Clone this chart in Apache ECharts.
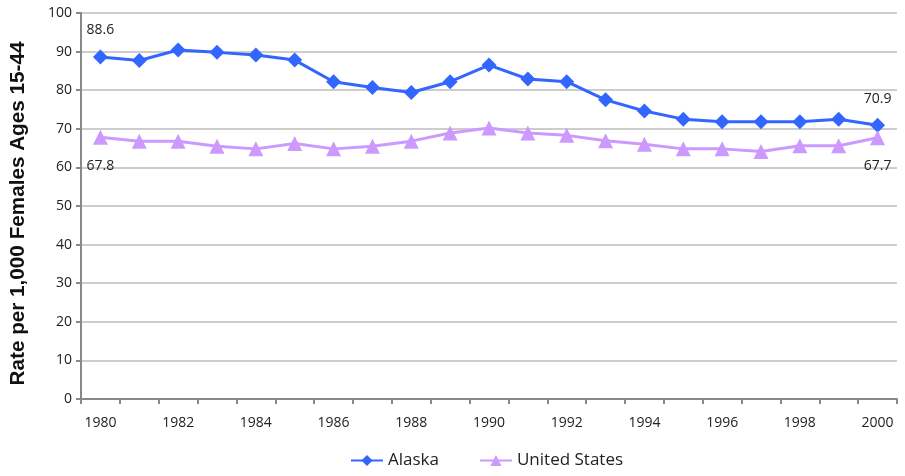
<!DOCTYPE html>
<html><head><meta charset="utf-8">
<script src="https://cdn.jsdelivr.net/npm/echarts@6/dist/echarts.min.js"></script>
<style>html,body{margin:0;padding:0;background:#fff}#c{width:905px;height:476px}</style>
</head><body><div id="c"></div>
<script>
const years = ['1980','1981','1982','1983','1984','1985','1986','1987','1988','1989','1990','1991','1992','1993','1994','1995','1996','1997','1998','1999','2000'];
const alaska = [88.6,87.7,90.4,89.8,89.1,87.8,82.2,80.7,79.4,82.2,86.5,82.9,82.2,77.5,74.6,72.5,71.8,71.8,71.8,72.5,70.9];
const us = [67.8,66.8,66.8,65.5,64.8,66.2,64.8,65.5,66.8,68.9,70.2,68.9,68.3,66.9,66.0,64.8,64.8,64.1,65.6,65.6,67.7];
const yTicks = [0,10,20,30,40,50,60,70,80,90,100];
const yTitle = 'Rate per 1,000 Females Ages 15-44';

const FONT = "'Open Sans', 'DejaVu Sans', sans-serif";
function withEndLabels(arr, pos) {
  return arr.map((v, i) => (i === 0 || i === arr.length - 1)
    ? {value: v, label: {show: true, position: pos, distance: pos === 'top' ? 12 : 14}}
    : v);
}
const chart = echarts.init(document.getElementById('c'));
chart.setOption({
  animation: false,
  grid: {left: 78, right: 8, top: 13, bottom: 77},
  legend: {
    bottom: 2, left: 345, itemWidth: 32, itemHeight: 14, itemGap: 40,
    textStyle: {fontFamily: FONT, fontSize: 17, color: '#222'},
    data: ['Alaska', 'United States']
  },
  xAxis: {
    type: 'category', data: years, boundaryGap: true,
    axisLine: {lineStyle: {color: '#888', width: 2}},
    axisTick: {show: true, interval: 0, length: 5, lineStyle: {color: '#888', width: 2}},
    axisLabel: {interval: 1, fontFamily: FONT, fontSize: 14, color: '#222', margin: 17}
  },
  yAxis: {
    type: 'value', min: yTicks[0], max: yTicks[yTicks.length - 1], interval: 10,
    name: yTitle, nameLocation: 'middle', nameGap: 52,
    nameTextStyle: {fontFamily: "'Liberation Sans', Arial, sans-serif", fontWeight: 'bold', fontSize: 20.7, color: '#111', padding: [0, 15, 0, 0]},
    axisLine: {show: true, lineStyle: {color: '#888', width: 2}},
    axisTick: {show: true, length: 5, lineStyle: {color: '#888', width: 2}},
    axisLabel: {fontFamily: FONT, fontSize: 14, color: '#222', margin: 9},
    splitLine: {lineStyle: {color: '#bdbdbd', width: 1.5}}
  },
  series: [
    {
      name: 'Alaska', type: 'line', data: withEndLabels(alaska, 'top'),
      symbol: 'diamond', symbolSize: 15,
      lineStyle: {color: '#3366FF', width: 3},
      itemStyle: {color: '#3366FF'},
      label: {show: false, fontFamily: FONT, fontSize: 14, color: '#222'}
    },
    {
      name: 'United States', type: 'line', data: withEndLabels(us, 'bottom'),
      symbol: 'triangle', symbolSize: 15,
      lineStyle: {color: '#CC99FF', width: 3},
      itemStyle: {color: '#CC99FF'},
      label: {show: false, fontFamily: FONT, fontSize: 14, color: '#222'}
    }
  ]
});
</script></body></html>
